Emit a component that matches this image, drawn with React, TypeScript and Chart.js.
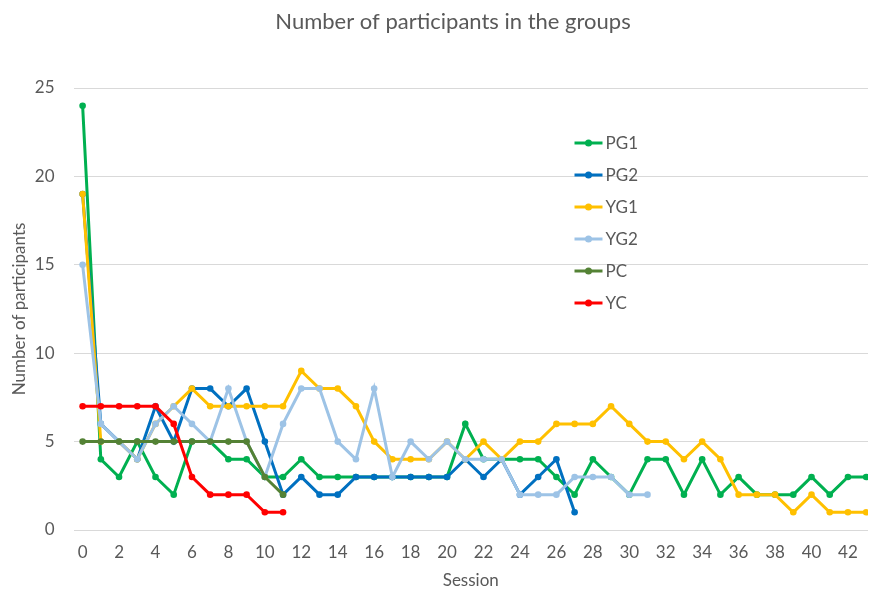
import React, { useEffect, useRef } from 'react';
import { Chart, registerables } from 'chart.js';

Chart.register(...registerables);

const sessions = [0, 1, 2, 3, 4, 5, 6, 7, 8, 9, 10, 11, 12, 13, 14, 15, 16, 17, 18, 19, 20, 21, 22, 23, 24, 25, 26, 27, 28, 29, 30, 31, 32, 33, 34, 35, 36, 37, 38, 39, 40, 41, 42, 43];
const xTickLabels = [0, 2, 4, 6, 8, 10, 12, 14, 16, 18, 20, 22, 24, 26, 28, 30, 32, 34, 36, 38, 40, 42];
const yTickLabels = [0, 5, 10, 15, 20, 25];

const chartTitle = 'Number of participants in the groups';
const seriesNames = ['PG1', 'PG2', 'YG1', 'YG2', 'PC', 'YC'];
const pg1 = [24, 4, 3, 5, 3, 2, 5, 5, 4, 4, 3, 3, 4, 3, 3, 3, 3, 3, 3, 3, 3, 6, 4, 4, 4, 4, 3, 2, 4, 3, 2, 4, 4, 2, 4, 2, 3, 2, 2, 2, 3, 2, 3, 3];
const pg2 = [19, 6, 5, 4, 7, 5, 8, 8, 7, 8, 5, 2, 3, 2, 2, 3, 3, 3, 3, 3, 3, 4, 3, 4, 2, 3, 4, 1];
const yg1 = [19, 5, 5, 4, 6, 7, 8, 7, 7, 7, 7, 7, 9, 8, 8, 7, 5, 4, 4, 4, 5, 4, 5, 4, 5, 5, 6, 6, 6, 7, 6, 5, 5, 4, 5, 4, 2, 2, 2, 1, 2, 1, 1, 1];
const yg2 = [15, 6, 5, 4, 6, 7, 6, 5, 8, 5, 3, 6, 8, 8, 5, 4, 8, 3, 5, 4, 5, 4, 4, 4, 2, 2, 2, 3, 3, 3, 2, 2];
const pc = [5, 5, 5, 5, 5, 5, 5, 5, 5, 5, 3, 2];
const yc = [7, 7, 7, 7, 7, 6, 3, 2, 2, 2, 1, 1];
const seriesValues = [pg1, pg2, yg1, yg2, pc, yc];
const seriesColors = ['#00B050', '#0070C0', '#FFC000', '#9DC3E6', '#548235', '#FF0000'];

const FONT = 'Lato';
const TEXT = '#595959';

const insideLegend = {
  id: 'insideLegend',
  afterDraw(chart: any) {
    const ctx = chart.ctx;
    const area = chart.chartArea;
    // title (the original chart was wider and cropped, so its title sits right of canvas centre)
    ctx.save();
    ctx.fillStyle = TEXT;
    ctx.font = `22px ${FONT}`;
    ctx.textAlign = 'center';
    ctx.textBaseline = 'middle';
    ctx.fillText(chartTitle, area.left + 379.5, area.top - 66);
    ctx.restore();

    const x0 = area.left + 501;
    const y0 = area.top + 55;
    chart.data.datasets.forEach((ds: any, i: number) => {
      const y = y0 + i * 32;
      ctx.save();
      ctx.strokeStyle = ds.borderColor;
      ctx.lineWidth = 3;
      ctx.beginPath();
      ctx.moveTo(x0, y);
      ctx.lineTo(x0 + 28, y);
      ctx.stroke();
      ctx.fillStyle = ds.borderColor;
      ctx.beginPath();
      ctx.arc(x0 + 14, y, 3.5, 0, Math.PI * 2);
      ctx.fill();
      ctx.fillStyle = TEXT;
      ctx.font = `17px ${FONT}`;
      ctx.textBaseline = 'middle';
      ctx.textAlign = 'left';
      ctx.fillText(ds.label, x0 + 31, y + 1);
      ctx.restore();
    });
  },
};

export default function App() {
  const ref = useRef<HTMLCanvasElement | null>(null);

  useEffect(() => {
    if (!ref.current) return;
    const datasets = seriesNames.map((name, i) => ({
      label: name,
      data: seriesValues[i].map((v, j) => ({ x: sessions[j], y: v })),
      borderColor: seriesColors[i],
      backgroundColor: seriesColors[i],
      pointBackgroundColor: seriesColors[i],
      pointBorderColor: seriesColors[i],
      pointRadius: 3.3,
      pointBorderWidth: 0,
      borderWidth: 3,
      tension: 0,
      order: seriesNames.length - i,
    }));

    const chart = new Chart(ref.current, {
      type: 'line',
      data: { datasets },
      plugins: [insideLegend],
      options: {
        animation: false,
        responsive: false,
        maintainAspectRatio: false,
        layout: { padding: { left: 0, right: 0, top: 88, bottom: 0 } },
        plugins: {
          legend: { display: false },
          tooltip: { enabled: false },
          title: { display: false },
        },
        scales: {
          x: {
            type: 'linear',
            min: -0.5,
            max: 43.1,
            afterFit: (s: any) => { s.height = 61; },
            afterBuildTicks: (axis: any) => { axis.ticks = xTickLabels.map((v) => ({ value: v })); },
            grid: { display: false, drawTicks: false },
            border: { display: false },
            ticks: {
              color: TEXT,
              font: { family: FONT, size: 17 },
              padding: 12.8,
              maxRotation: 0,
              autoSkip: false,
            },
            title: {
              display: true,
              text: 'Session',
              color: TEXT,
              font: { family: FONT, size: 17 },
              padding: { top: 0, bottom: 0 },
            },
          },
          y: {
            min: 0,
            max: 25,
            afterFit: (s: any) => { s.width = 73.5; },
            afterBuildTicks: (axis: any) => { axis.ticks = yTickLabels.map((v) => ({ value: v })); },
            grid: { color: '#D9D9D9', lineWidth: 1, drawTicks: false },
            border: { display: false },
            ticks: {
              color: TEXT,
              font: { family: FONT, size: 17 },
              padding: 19,
            },
            title: {
              display: true,
              text: 'Number of participants',
              color: TEXT,
              font: { family: FONT, size: 17 },
              padding: { top: 9, bottom: 0 },
            },
          },
        },
      },
    });
    return () => chart.destroy();
  }, []);

  return (
    <div style={{ position: 'absolute', left: 0, top: 0, width: 872, height: 591, background: '#fff' }}>
      <canvas ref={ref} width={872} height={591} style={{ display: 'block' }} />
    </div>
  );
}
